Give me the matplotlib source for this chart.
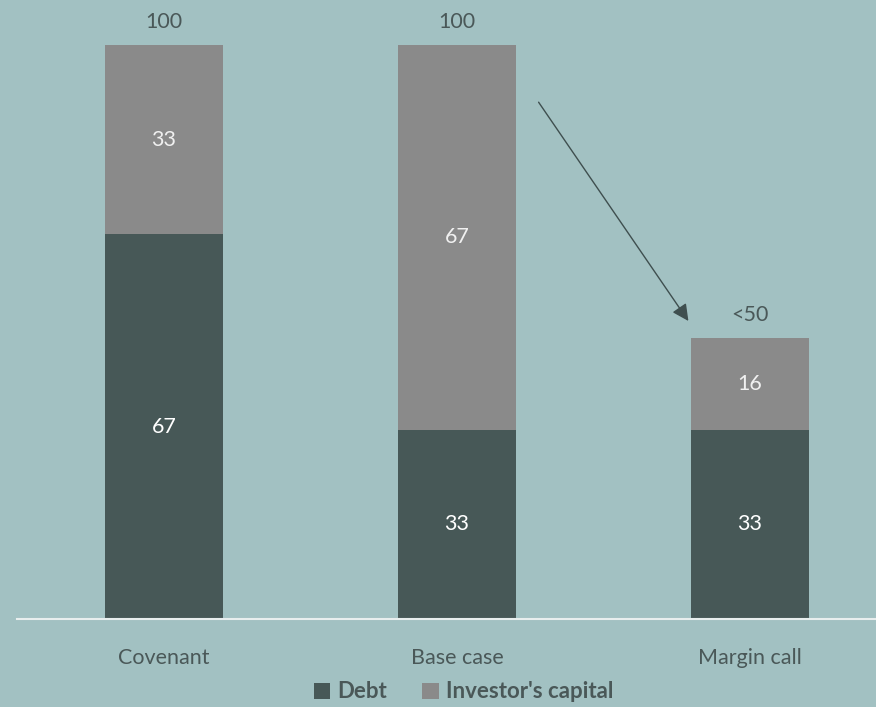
import matplotlib.pyplot as plt
import numpy as np

categories = ["Covenant", "Base case", "Margin call"]
debt = [67, 33, 33]
capital = [33, 67, 16]
totals = ["100", "100", "<50"]

bg = "#a2c1c2"
dark = "#475857"
grey = "#8a8a8a"
txt = "#4a5858"

plt.rcParams['font.family'] = ['Lato', 'DejaVu Sans']

fig = plt.figure(figsize=(8.76, 7.07), dpi=100, facecolor=bg)
ax = fig.add_axes([17 / 876, 1 - 619 / 707, 1 - 17 / 876, 619 / 707])
ax.set_facecolor(bg)

x = np.arange(len(categories))
w = 0.40
b1 = ax.bar(x, debt, w, color=dark, label="Debt")
b2 = ax.bar(x, capital, w, bottom=debt, color=grey, label="Investor's capital")

for i in range(len(x)):
    ax.text(x[i], debt[i] / 2, str(debt[i]), ha="center", va="center",
            color="white", fontsize=15.5)
    ax.text(x[i], debt[i] + capital[i] / 2, str(capital[i]), ha="center",
            va="center", color="#f0f0f0", fontsize=15.5)
    ax.text(x[i], debt[i] + capital[i] + 4.0, totals[i], ha="center",
            va="center", color=txt, fontsize=15.5)

ax.annotate("", xy=(1.795, 51.5), xytext=(1.273, 90.4),
            arrowprops=dict(arrowstyle="-|>", color="#3f4f4f", lw=1,
                            mutation_scale=25))

ax.set_xlim(-0.502, 2.43)
ax.set_ylim(0, 107.8)
for s in ["top", "right", "left"]:
    ax.spines[s].set_visible(False)
ax.spines["bottom"].set_color("#e8eeee")
ax.spines["bottom"].set_linewidth(1.5)
ax.set_yticks([])
ax.set_xticks(x)
ax.set_xticklabels(categories, color=txt, fontsize=15.5)
ax.tick_params(axis="x", length=0, pad=21)

leg = fig.legend(handles=[b1, b2], loc="center", bbox_to_anchor=(0.529, 1 - 692 / 707),
                 ncol=2, frameon=False, handlelength=0.75, handleheight=0.75,
                 handletextpad=0.3, columnspacing=1.6,
                 prop={"weight": "bold", "size": 16})
for t in leg.get_texts():
    t.set_color(txt)

plt.savefig("out.png", dpi=100, facecolor=bg)
